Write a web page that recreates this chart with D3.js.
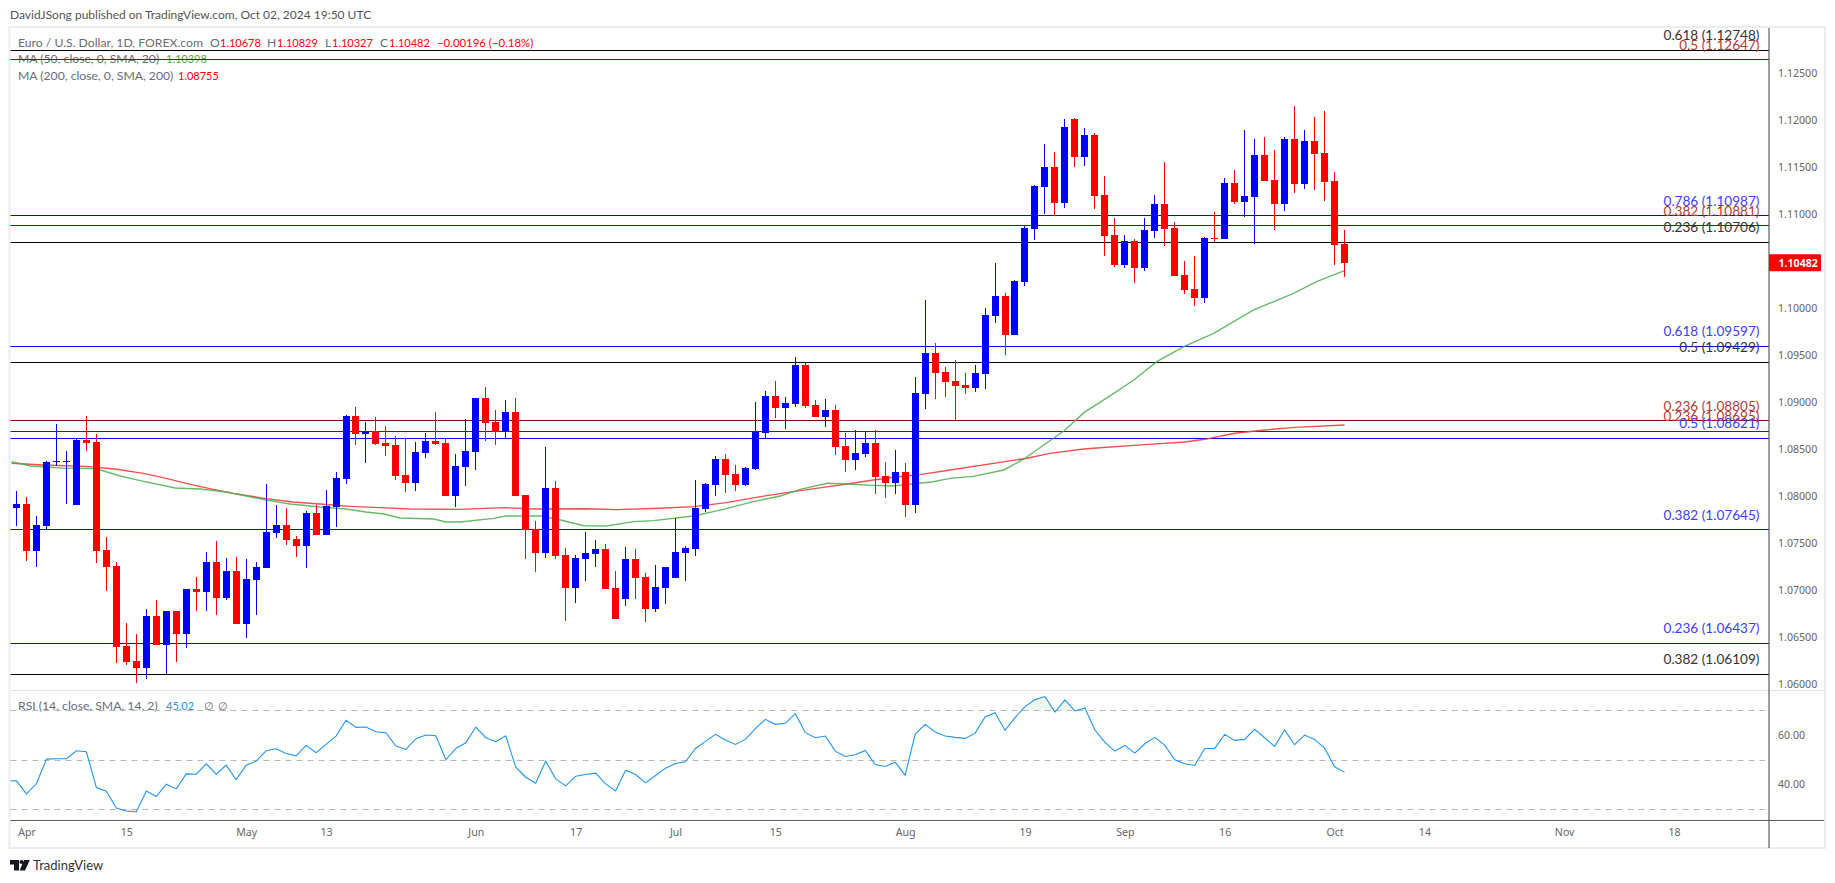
<!DOCTYPE html>
<html>
<head>
<meta charset="utf-8">
<script src="https://cdn.jsdelivr.net/npm/d3@7"></script>
<style>
    html, body { margin: 0; padding: 0; background: #fff; }
    svg { display: block; }
    text { font-family: Lato, "Noto Sans", sans-serif; }
</style>
</head>
<body>
<svg id="chart" width="1835" height="883"></svg>
<script>
// daily candles, first one is Mar 29 2024, last one Oct 02 2024
var opens = [
    1.07872,1.07915,1.07415,1.07681,1.08365,1.08365,1.07904,1.08596,1.08574,1.07426,
    1.07255,1.06404,1.06245,1.06170,1.06723,1.06415,1.06777,1.06532,1.07011,1.06979,
    1.07298,1.06915,1.07202,1.06638,1.07106,1.07234,1.07606,1.07691,1.07543,1.07468,
    1.07819,1.07585,1.07883,1.08181,1.08851,1.08660,1.08688,1.08564,1.08543,1.08223,
    1.08138,1.08457,1.08585,1.08564,1.08000,1.08309,1.08468,1.09043,1.08787,1.08684,
    1.08894,1.08011,1.07649,1.07394,1.08085,1.07372,1.07021,1.07330,1.07383,1.07436,
    1.07021,1.06904,1.07330,1.07138,1.06798,1.07021,1.07128,1.07394,1.07436,1.07862,
    1.08117,1.08394,1.08234,1.08117,1.08287,1.08670,1.09064,1.08936,1.08979,1.09394,
    1.08968,1.08840,1.08915,1.08532,1.08383,1.08447,1.08564,1.08213,1.08138,1.08255,
    1.07904,1.09085,1.09521,1.09319,1.09223,1.09181,1.09149,1.09298,1.09915,1.10128,
    1.09713,1.10277,1.10840,1.11287,1.11500,1.11117,1.12011,1.11606,1.11840,1.11202,
    1.10777,1.10457,1.10713,1.10426,1.10819,1.11106,1.10851,1.10351,1.10202,1.10106,
    1.10745,1.10734,1.11330,1.11128,1.11181,1.11628,1.11362,1.11106,1.11798,1.11319,
    1.11777,1.11649,1.11351,1.10678
];
var highs = [
    1.08053,1.07989,1.07787,1.08372,1.08766,1.08479,1.08610,1.08851,1.08660,1.07564,
    1.07298,1.06649,1.06532,1.06798,1.06894,1.06777,1.06777,1.07011,1.07138,1.07404,
    1.07521,1.07340,1.07351,1.07330,1.07298,1.08128,1.07904,1.07872,1.07574,1.07840,
    1.07904,1.08064,1.08255,1.08862,1.08947,1.08787,1.08840,1.08745,1.08638,1.08613,
    1.08574,1.08670,1.08894,1.08606,1.08447,1.08819,1.09043,1.09160,1.08915,1.09021,
    1.09043,1.08011,1.07734,1.08521,1.08160,1.07447,1.07372,1.07617,1.07532,1.07489,
    1.07202,1.07457,1.07436,1.07181,1.07266,1.07245,1.07766,1.07468,1.08170,1.08138,
    1.08426,1.08447,1.08330,1.08309,1.09000,1.09117,1.09223,1.09053,1.09475,1.09418,
    1.09021,1.09032,1.08968,1.08670,1.08702,1.08684,1.08702,1.08362,1.08489,1.08351,
    1.09266,1.10085,1.09628,1.09372,1.09447,1.09309,1.09394,1.10000,1.10479,1.10160,
    1.10298,1.10872,1.11308,1.11745,1.11660,1.12011,1.12021,1.11915,1.11862,1.11404,
    1.10957,1.10777,1.10734,1.10957,1.11202,1.11553,1.10915,1.10500,1.10553,1.10755,
    1.11021,1.11383,1.11468,1.11894,1.11798,1.11819,1.11681,1.11819,1.12149,1.11894,
    1.12032,1.12096,1.11447,1.10829
];
var lows = [
    1.07681,1.07309,1.07245,1.07638,1.08319,1.07915,1.07904,1.08479,1.07287,1.06989,
    1.06223,1.06202,1.06011,1.06053,1.06415,1.06103,1.06234,1.06383,1.06777,1.06777,
    1.06734,1.06894,1.06638,1.06489,1.06734,1.07234,1.07553,1.07479,1.07351,1.07234,
    1.07585,1.07585,1.07670,1.08128,1.08543,1.08351,1.08543,1.08426,1.08170,1.08043,
    1.08053,1.08404,1.08543,1.08000,1.07883,1.08106,1.08277,1.08585,1.08543,1.08610,
    1.08000,1.07330,1.07191,1.07340,1.07330,1.06670,1.06862,1.07096,1.07245,1.07011,
    1.06691,1.06830,1.06904,1.06660,1.06766,1.06851,1.07128,1.07096,1.07362,1.07830,
    1.08000,1.08032,1.08053,1.08106,1.08277,1.08610,1.08830,1.08713,1.08947,1.08936,
    1.08840,1.08734,1.08436,1.08255,1.08277,1.08415,1.08021,1.07979,1.08021,1.07777,
    1.07819,1.08926,1.09032,1.09053,1.08805,1.09085,1.09106,1.09138,1.09840,1.09500,
    1.09713,1.10234,1.10723,1.11000,1.10982,1.11064,1.11500,1.11511,1.11053,1.10553,
    1.10436,1.10426,1.10266,1.10394,1.10745,1.10660,1.10340,1.10149,1.10021,1.10053,
    1.10702,1.10734,1.11106,1.10968,1.10681,1.11351,1.10830,1.11032,1.11223,1.11266,
    1.11255,1.11138,1.10457,1.10327
];
var closes = [
    1.07915,1.07415,1.07691,1.08362,1.08369,1.08369,1.08596,1.08564,1.07415,1.07245,
    1.06394,1.06234,1.06170,1.06723,1.06415,1.06777,1.06532,1.07011,1.06979,1.07298,
    1.06915,1.07202,1.06638,1.07117,1.07245,1.07617,1.07691,1.07532,1.07468,1.07819,
    1.07585,1.07894,1.08191,1.08851,1.08660,1.08681,1.08553,1.08532,1.08213,1.08138,
    1.08468,1.08585,1.08553,1.08000,1.08319,1.08479,1.09043,1.08777,1.08684,1.08894,
    1.08000,1.07638,1.07394,1.08085,1.07362,1.07021,1.07340,1.07394,1.07436,1.07011,
    1.06691,1.07330,1.07128,1.06798,1.07032,1.07245,1.07404,1.07447,1.07872,1.08128,
    1.08394,1.08223,1.08117,1.08298,1.08684,1.09064,1.08936,1.08989,1.09394,1.08957,
    1.08840,1.08915,1.08521,1.08383,1.08457,1.08564,1.08202,1.08138,1.08255,1.07904,
    1.09096,1.09521,1.09309,1.09213,1.09170,1.09149,1.09309,1.09926,1.10128,1.09713,
    1.10287,1.10851,1.11298,1.11500,1.11117,1.11926,1.11606,1.11840,1.11191,1.10766,
    1.10457,1.10713,1.10426,1.10830,1.11106,1.10840,1.10340,1.10191,1.10106,1.10745,
    1.10738,1.11330,1.11128,1.11191,1.11628,1.11351,1.11106,1.11798,1.11319,1.11777,
    1.11638,1.11340,1.10670,1.10482
];

// moving averages, read at the bends of the lines (candle index, value)
var ma50Idx = [-0.5,1.4,5,7.4,8.4,10.4,12.4,15.9,18.4,21,23,25,27.4,30.4,33,35,36.8,38.4,41.8,43,44.4,47.8,49,52.5,54.5,56.8,59.1,61.8,63.8,67.8,70.8,73.8,76.5,78.5,81.2,83.2,85.8,87.8,91.8,93.5,95.8,98.9,100.9,103.2,104.9,106.9,109.9,111.9,114.2,116.9,119.9,123.9,127.9,130.2,133];
var ma50Val = [1.08365,1.08319,1.08294,1.08294,1.08277,1.08213,1.08163,1.08085,1.08074,1.08043,1.08000,1.07957,1.07915,1.07883,1.07862,1.07830,1.07809,1.07766,1.07755,1.07723,1.07723,1.07762,1.07787,1.07787,1.07745,1.07684,1.07681,1.07727,1.07738,1.07787,1.07858,1.07940,1.08000,1.08071,1.08135,1.08128,1.08113,1.08106,1.08152,1.08188,1.08209,1.08277,1.08394,1.08567,1.08692,1.08887,1.09092,1.09234,1.09429,1.09589,1.09730,1.09979,1.10156,1.10280,1.10398];
var ma200Idx = [-0.5,2.7,7.4,10,12.7,15,17,19.7,21.7,25,27.7,30.4,33.4,36.4,39.4,44.4,48.8,51.8,57.1,60.1,64.5,67.8,71.1,74.5,77.8,80.8,83.2,85.8,87.8,90.5,93.5,98.5,101.2,103.5,106.9,108.5,113,117,119,122,125,128,133];
var ma200Val = [1.08348,1.08330,1.08312,1.08284,1.08241,1.08188,1.08135,1.08071,1.08028,1.07972,1.07936,1.07915,1.07890,1.07876,1.07862,1.07858,1.07876,1.07862,1.07865,1.07855,1.07869,1.07887,1.07929,1.07993,1.08046,1.08092,1.08128,1.08170,1.08199,1.08227,1.08277,1.08358,1.08401,1.08454,1.08500,1.08514,1.08546,1.08574,1.08603,1.08667,1.08702,1.08730,1.08755];

// RSI, one value per candle, the first one sits left of the panel edge
var rsiVal = [
    41.6,41.49,36.22,40.41,50.27,50.41,50.41,53.65,53.24,38.78,37.30,
    30.54,29.32,28.92,37.43,35.14,40.14,38.24,44.32,44.19,48.38,
    44.19,47.84,42.03,47.84,49.46,53.65,54.46,52.57,51.62,55.81,
    52.84,56.22,59.59,65.95,63.11,63.24,61.35,60.95,55.54,54.19,
    58.51,60.00,59.73,50.00,54.59,56.89,63.24,58.92,57.30,59.73,
    47.03,42.97,40.54,49.46,42.30,39.46,43.38,44.05,44.59,40.27,
    37.43,45.81,44.05,40.68,43.65,46.62,48.51,49.19,54.59,57.43,
    60.27,57.97,56.22,58.24,62.57,66.35,64.32,64.73,68.65,60.95,
    58.92,59.59,53.51,51.35,52.03,53.78,48.11,47.30,49.05,43.78,
    60.27,64.32,61.22,59.59,59.05,58.65,60.68,67.30,69.05,61.89,
    67.03,71.49,74.32,75.54,69.32,74.19,69.73,70.95,62.03,57.03,
    53.51,55.81,52.70,56.49,59.05,55.95,50.00,48.38,47.70,54.59,
    54.59,60.27,57.84,58.24,62.30,58.92,55.41,62.03,56.08,60.00,
    58.24,54.73,47.16,45.02
];

// fib levels
var fibRatio = ["0.618","0.5","0.786","0.382","0.236","0.618","0.5","0.236","0.236","0.5","0.382","0.236","0.382"];
var fibPrice = [1.12748,1.12647,1.10987,1.10881,1.10706,1.09597,1.09429,1.08805,1.08695,1.08621,1.07645,1.06437,1.06109];
var fibGroup = ["k","m","b","m","k","b","k","m","m","b","b","b","k"];

var priceTicks = [1.125,1.12,1.115,1.11,1.10,1.095,1.09,1.085,1.08,1.075,1.07,1.065,1.06];
var rsiTicks = [60,40];
var rsiBands = [70,50,30];
var timeTickIdx = [1,11,23,31,46,56,66,76,89,101,111,121,132,141,155,166];
var timeTickLabel = ["Apr","15","May","13","Jun","17","Jul","15","Aug","19","Sep","16","Oct","14","Nov","18"];

var svg = d3.select("#chart");

var x = d3.scaleLinear().domain([0, 133]).range([16.5, 1344.5]);
var y = d3.scaleLinear().domain([1.06, 1.125]).range([684, 73]);
var yRsi = d3.scaleLinear().domain([30, 70]).range([809.3, 710.3]);

var left = 10.5, right = 1769, top_ = 28, split = 690, bottom = 820.5;

// panel frame
svg.append("rect").attr("x", 9.5).attr("y", 27).attr("width", 1815.5).attr("height", 821)
    .attr("fill", "none").attr("stroke", "#ececf3").attr("stroke-width", 2);
svg.append("line").attr("x1", left).attr("x2", 1824).attr("y1", split + 0.5).attr("y2", split + 0.5)
    .attr("stroke", "#e1e1ee").attr("stroke-width", 1);

var defs = svg.append("defs");
defs.append("clipPath").attr("id", "clipPrice").append("rect")
    .attr("x", left).attr("y", top_).attr("width", right - left).attr("height", split - top_);
defs.append("clipPath").attr("id", "clipRsi").append("rect")
    .attr("x", left).attr("y", split).attr("width", right - left).attr("height", bottom - split);
defs.append("clipPath").attr("id", "clipOver").append("rect")
    .attr("x", left).attr("y", split).attr("width", right - left).attr("height", yRsi(70) - split);
defs.append("clipPath").attr("id", "clipUnder").append("rect")
    .attr("x", left).attr("y", yRsi(30)).attr("width", right - left).attr("height", bottom - yRsi(30));

// header and legend go under the fib lines
svg.append("text").attr("x", 10).attr("y", 19).attr("font-size", 12).attr("fill", "#555")
    .text("DavidJSong published on TradingView.com, Oct 02, 2024 19:50 UTC");

function legendLine(yPos, parts){
    parts.forEach(function(p){
        svg.append("text").attr("x", p[2]).attr("y", yPos)
            .attr("font-size", p[3]).attr("fill", p[1]).text(p[0]);
    });
}
var grey = "#6a6d78", upRed = "#ff0000";
legendLine(46.5, [
    ["Euro / U.S. Dollar, 1D, FOREX.com", grey, 18, 12.2],
    ["O", grey, 210, 12.2], ["1.10678", upRed, 220, 11],
    ["H", grey, 267, 12.2], ["1.10829", upRed, 277, 11],
    ["L", grey, 325, 12.2], ["1.10327", upRed, 332, 11],
    ["C", grey, 380, 12.2], ["1.10482", upRed, 389, 11],
    ["\u22120.00196 (\u22120.18%)", upRed, 437, 11.4]
]);
legendLine(63, [["MA (50, close, 0, SMA, 20)", grey, 18, 12.2], ["1.10398", "#4caf50", 166, 11]]);
legendLine(80, [["MA (200, close, 0, SMA, 200)", grey, 18, 12.2], ["1.08755", upRed, 178, 11]]);
legendLine(710, [
    ["RSI (14, close, SMA, 14, 2)", grey, 18, 12.2], ["45.02", "#2196f3", 166, 11],
    ["\u2205", grey, 204, 11], ["\u2205", grey, 218, 11]
]);

// fib lines
var fibColor = {k: "#000000", m: "#8b0000", b: "#0000ff"};
var fibText = {k: "#333333", m: "#b23a3a", b: "#3d3dff"};
svg.append("g").selectAll("line").data(fibPrice).enter().append("line")
    .attr("x1", left).attr("x2", right)
    .attr("y1", function(d){ return Math.round(y(d)) + 0.5; })
    .attr("y2", function(d){ return Math.round(y(d)) + 0.5; })
    .attr("stroke", function(d, i){ return fibColor[fibGroup[i]]; })
    .attr("stroke-width", 1);

// moving averages
var maLine = d3.line().x(function(d){ return x(d[0]); }).y(function(d){ return y(d[1]); });
var maLayer = svg.append("g").attr("clip-path", "url(#clipPrice)");
maLayer.append("path").attr("d", maLine(d3.zip(ma200Idx, ma200Val)))
    .attr("fill", "none").attr("stroke", "#f23c3c").attr("stroke-width", 1.4).attr("stroke-opacity", 0.9);
maLayer.append("path").attr("d", maLine(d3.zip(ma50Idx, ma50Val)))
    .attr("fill", "none").attr("stroke", "#4caf50").attr("stroke-width", 1.4).attr("stroke-opacity", 0.85);

// candles
var candles = svg.append("g").attr("shape-rendering", "crispEdges").selectAll("g")
    .data(d3.range(opens.length)).enter().append("g");
function candleColor(i){
    return closes[i] >= opens[i] ? "#0000ff" : "#ff0000";
}
candles.append("rect")
    .attr("x", function(i){ return Math.floor(x(i)); })
    .attr("width", 1)
    .attr("y", function(i){ return y(highs[i]); })
    .attr("height", function(i){ return y(lows[i]) - y(highs[i]); })
    .attr("fill", candleColor);
candles.append("rect")
    .attr("x", function(i){ return Math.floor(x(i)) - 3; })
    .attr("width", 7)
    .attr("y", function(i){ return y(Math.max(opens[i], closes[i])); })
    .attr("height", function(i){ return Math.max(1, Math.abs(y(opens[i]) - y(closes[i]))); })
    .attr("fill", candleColor);

// fib labels on top of everything in the price panel
svg.append("g").selectAll("text").data(fibPrice).enter().append("text")
    .attr("x", 1759.5)
    .attr("y", function(d){ return y(d) - 9.5; })
    .attr("text-anchor", "end")
    .attr("font-size", 13.6)
    .attr("fill", function(d, i){ return fibText[fibGroup[i]]; })
    .text(function(d, i){ return fibRatio[i] + " (" + d.toFixed(5) + ")"; });

// RSI panel
svg.append("g").selectAll("line").data(rsiBands).enter().append("line")
    .attr("x1", left).attr("x2", 1765)
    .attr("y1", function(d){ return Math.round(yRsi(d)) + 0.5; })
    .attr("y2", function(d){ return Math.round(yRsi(d)) + 0.5; })
    .attr("stroke", "#b8b8b8").attr("stroke-width", 1).attr("stroke-dasharray", "6 5");

var rsiPts = rsiVal.map(function(d, i){ return [i - 1, d]; });
var rsiLine = d3.line().x(function(d){ return x(d[0]); }).y(function(d){ return yRsi(d[1]); });
var rsiLayer = svg.append("g").attr("clip-path", "url(#clipRsi)");
svg.append("path").attr("clip-path", "url(#clipOver)")
    .attr("d", d3.area().x(function(d){ return x(d[0]); }).y0(yRsi(70)).y1(function(d){ return yRsi(d[1]); })(rsiPts))
    .attr("fill", "#4caf50").attr("fill-opacity", 0.1);
svg.append("path").attr("clip-path", "url(#clipUnder)")
    .attr("d", d3.area().x(function(d){ return x(d[0]); }).y0(yRsi(30)).y1(function(d){ return yRsi(d[1]); })(rsiPts))
    .attr("fill", "#ff5252").attr("fill-opacity", 0.1);
rsiLayer.append("path").attr("d", rsiLine(rsiPts))
    .attr("fill", "none").attr("stroke", "#2196f3").attr("stroke-width", 1.1);

// axes
var axisRight = d3.axisRight(y).tickValues(priceTicks).tickFormat(d3.format(".5f")).tickSize(0).tickPadding(9);
var gPrice = svg.append("g").attr("transform", "translate(" + right + ",0)").call(axisRight);
var axisRsi = d3.axisRight(yRsi).tickValues(rsiTicks).tickFormat(d3.format(".2f")).tickSize(0).tickPadding(9);
var gRsi = svg.append("g").attr("transform", "translate(" + right + ",0)").call(axisRsi);
var axisTime = d3.axisBottom(x).tickValues(timeTickIdx)
    .tickFormat(function(d, i){ return timeTickLabel[i]; }).tickSize(0).tickPadding(8);
var gTime = svg.append("g").attr("transform", "translate(0," + bottom + ")").call(axisTime);
[gPrice, gRsi, gTime].forEach(function(g){
    g.select(".domain").remove();
    g.selectAll("text").attr("font-size", 10.6).attr("fill", "#666").style("font-family", '"Noto Sans", sans-serif');
});

svg.append("line").attr("x1", right).attr("x2", right).attr("y1", top_).attr("y2", 848)
    .attr("stroke", "#5c5c5c").attr("stroke-width", 1.2);
svg.append("line").attr("x1", left).attr("x2", 1824).attr("y1", bottom).attr("y2", bottom)
    .attr("stroke", "#5c5c5c").attr("stroke-width", 1.2);

// last price tag
var lastClose = closes[closes.length - 1];
svg.append("rect").attr("x", right).attr("y", y(lastClose) - 8.5).attr("width", 52).attr("height", 17)
    .attr("rx", 1).attr("fill", "#ff0000");
svg.append("text").attr("x", 1778.5).attr("y", y(lastClose) + 4).attr("font-size", 10.6)
    .attr("font-weight", "bold").attr("fill", "#fff").style("font-family", '"Noto Sans", sans-serif')
    .text(d3.format(".5f")(lastClose));

// TradingView mark
var logo = svg.append("g").attr("fill", "#131722");
logo.append("path").attr("d", "M10 860H19V870.5H14V864.5H10Z");
logo.append("circle").attr("cx", 21.5).attr("cy", 862).attr("r", 2);
logo.append("path").attr("d", "M24 860H29.8L25 870.5H19.6Z");
svg.append("text").attr("x", 33).attr("y", 870).attr("font-size", 13).attr("fill", "#333").text("TradingView");
</script>
</body>
</html>
